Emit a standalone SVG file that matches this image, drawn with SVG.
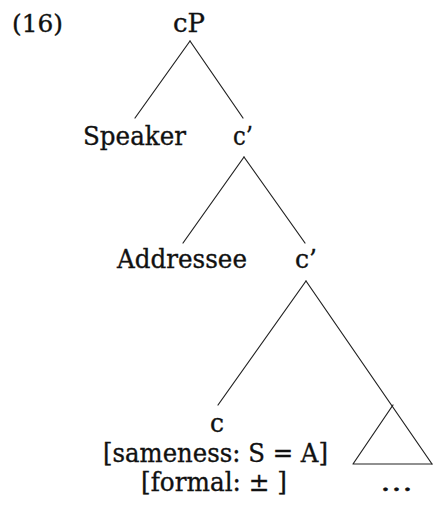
<svg xmlns="http://www.w3.org/2000/svg" width="433" height="508" viewBox="0 0 433 508">
  <style>
    text { font-family: "DejaVu Serif", "Liberation Serif", serif; font-size: 26px; fill: #111; stroke: #111; stroke-width: 0.35; }
    .lbl { text-anchor: middle; }
    .num { font-size: 25px; }
    .edge { stroke: #222; stroke-width: 1.2; fill: none; stroke-linecap: round; stroke-linejoin: round; }
  </style>
  <rect width="433" height="508" fill="#fff"/>

  <!-- example number -->
  <text class="num" x="12" y="32" textLength="51" lengthAdjust="spacingAndGlyphs">(16)</text>

  <!-- branches -->
  <g id="edges">
    <line class="edge" x1="190" y1="41" x2="135" y2="118"/>
    <line class="edge" x1="190" y1="41" x2="243" y2="118"/>
    <line class="edge" x1="244" y1="157" x2="183" y2="243"/>
    <line class="edge" x1="244" y1="157" x2="305" y2="243"/>
    <line class="edge" x1="306" y1="281" x2="218" y2="405"/>
    <line class="edge" x1="306" y1="281" x2="432" y2="464"/>
    <!-- abbreviated subtree -->
    <polyline class="edge" points="393,405 353,464 432,464"/>
  </g>

  <g id="cP"><text class="lbl" x="189" y="32" textLength="32" lengthAdjust="spacingAndGlyphs">cP</text></g>
  <g id="speaker"><text class="lbl" x="134.5" y="145" textLength="103" lengthAdjust="spacingAndGlyphs">Speaker</text></g>
  <g id="cbar1"><text class="lbl" x="243" y="145" textLength="20" lengthAdjust="spacingAndGlyphs">c’</text></g>
  <g id="addressee"><text class="lbl" x="182" y="268" textLength="130" lengthAdjust="spacingAndGlyphs">Addressee</text></g>
  <g id="cbar2"><text class="lbl" x="306" y="268" textLength="22" lengthAdjust="spacingAndGlyphs">c’</text></g>
  <g id="c">
    <text class="lbl" x="217" y="432" textLength="14" lengthAdjust="spacingAndGlyphs">c</text>
    <text class="lbl" x="215.5" y="462" textLength="225" lengthAdjust="spacingAndGlyphs">[sameness: S = A]</text>
    <text class="lbl" x="214" y="491" textLength="146" lengthAdjust="spacingAndGlyphs">[formal: ± ]</text>
  </g>
  <g id="rest"><text class="lbl" x="396.5" y="491" textLength="33" lengthAdjust="spacingAndGlyphs">…</text></g>
</svg>
